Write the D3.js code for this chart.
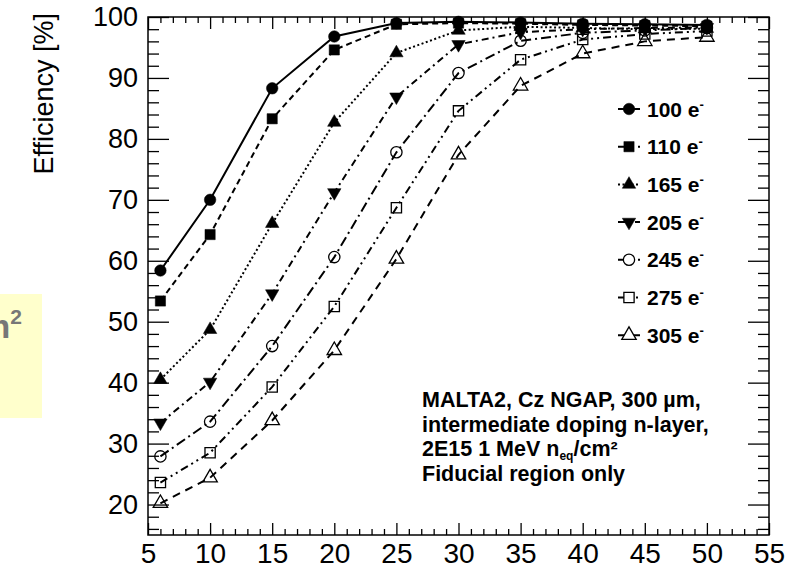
<!DOCTYPE html>
<html>
<head>
<meta charset="utf-8">
<script src="https://cdn.jsdelivr.net/npm/d3@7"></script>
<style>
  body { margin: 0; background: #fff; }
  svg { display: block; font-family: "Liberation Sans", Arial, Helvetica, sans-serif; }
</style>
</head>
<body>
<div id="chart"></div>
<script>
// threshold values (electrons) and the efficiency curves
const thresholds = ["100", "110", "165", "205", "245", "275", "305"];
const xValues = [6, 10, 15, 20, 25, 30, 35, 40, 45, 50];

const eff100 = [58.4, 70.0, 88.3, 96.8, 99.0, 99.2, 99.1, 98.9, 98.8, 98.7];
const eff110 = [53.4, 64.3, 83.3, 94.6, 98.8, 99.0, 98.9, 98.7, 98.6, 98.5];
const eff165 = [40.5, 48.7, 66.1, 82.7, 94.1, 97.8, 98.4, 98.2, 98.0, 98.1];
const eff205 = [33.4, 40.1, 54.6, 71.2, 86.9, 95.5, 97.5, 98.0, 98.2, 98.3];
const eff245 = [27.9, 33.6, 46.0, 60.6, 77.8, 90.8, 96.1, 97.4, 97.8, 98.2];
const eff275 = [23.6, 28.5, 39.3, 52.5, 68.7, 84.6, 93.0, 96.3, 97.2, 97.7];
const eff305 = [20.2, 24.4, 33.8, 45.3, 60.3, 77.4, 88.7, 94.0, 96.0, 96.7];

const xTicks = [5, 10, 15, 20, 25, 30, 35, 40, 45, 50, 55];
const yTicks = [20, 30, 40, 50, 60, 70, 80, 90, 100];

const annotation = [
  "MALTA2, Cz NGAP, 300 \u00b5m,",
  "intermediate doping n-layer,",
  "2E15 1 MeV n_eq/cm\u00b2",
  "Fiducial region only"
];

const W = 812, H = 569;
const frame = { left: 148, right: 769, top: 17, bottom: 535 };

const svg = d3.select("#chart").append("svg")
  .attr("width", W)
  .attr("height", H);

// yellow box peeking in from the left edge
svg.append("rect")
  .attr("x", 0).attr("y", 294)
  .attr("width", 42).attr("height", 124)
  .attr("fill", "#ffffcc");
const cut = svg.append("text")
  .attr("x", 22).attr("y", 338)
  .attr("text-anchor", "end")
  .attr("font-size", 34)
  .attr("font-weight", "bold")
  .attr("fill", "#777");
cut.append("tspan").text("cm");
cut.append("tspan").attr("dy", -14).attr("font-size", 21).text("2");

const x = d3.scaleLinear().domain([5, 55]).range([frame.left, frame.right]);
const y = d3.scaleLinear().domain([15, 100]).range([frame.bottom, frame.top]);

const plotW = frame.right - frame.left, plotH = frame.bottom - frame.top;

// ticks: x minor every 1, y minor every 2 (ROOT style, on all four sides)
const xMinor = d3.range(5, 56, 1).filter(v => v % 5 !== 0);
const yMinor = d3.range(16, 100, 2).filter(v => v % 10 !== 0);

function tickGroup(axis, tx, ty) {
  const g = svg.append("g").attr("transform", `translate(${tx},${ty})`).call(axis);
  g.select(".domain").remove();
  g.selectAll(".tick line").attr("stroke", "#000").attr("stroke-width", 1.3);
  return g;
}

// bottom
const gx = tickGroup(d3.axisBottom(x).tickValues(xTicks).tickSizeInner(-12).tickSizeOuter(0).tickPadding(8), 0, frame.bottom);
gx.selectAll("text").attr("font-size", 28).attr("fill", "#000");
tickGroup(d3.axisBottom(x).tickValues(xMinor).tickSize(-6).tickFormat(""), 0, frame.bottom);
// top
tickGroup(d3.axisTop(x).tickValues(xTicks).tickSize(-12).tickFormat(""), 0, frame.top);
tickGroup(d3.axisTop(x).tickValues(xMinor).tickSize(-6).tickFormat(""), 0, frame.top);
// left
const gy = tickGroup(d3.axisLeft(y).tickValues(yTicks).tickSizeInner(-21).tickSizeOuter(0).tickPadding(10), frame.left, 0);
gy.selectAll("text").attr("font-size", 27).attr("fill", "#000");
tickGroup(d3.axisLeft(y).tickValues(yMinor).tickSize(-11).tickFormat(""), frame.left, 0);
// right
tickGroup(d3.axisRight(y).tickValues(yTicks).tickSize(-21).tickFormat(""), frame.right, 0);
tickGroup(d3.axisRight(y).tickValues(yMinor).tickSize(-11).tickFormat(""), frame.right, 0);

svg.append("rect")
  .attr("x", frame.left).attr("y", frame.top)
  .attr("width", plotW).attr("height", plotH)
  .attr("fill", "none")
  .attr("stroke", "#000")
  .attr("stroke-width", 1.5);

// y axis title
svg.append("text")
  .attr("transform", `translate(53,13) rotate(-90)`)
  .attr("text-anchor", "end")
  .attr("font-size", 27)
  .text("Efficiency [%]");

// series description
const series = [
  { name: thresholds[0], values: eff100, symbol: d3.symbolCircle, size: 105, filled: true, rot: 0, dash: null },
  { name: thresholds[1], values: eff110, symbol: d3.symbolSquare, size: 105, filled: true, rot: 0, dash: "6,4" },
  { name: thresholds[2], values: eff165, symbol: d3.symbolTriangle, size: 78, filled: true, rot: 0, dash: "2,2.5" },
  { name: thresholds[3], values: eff205, symbol: d3.symbolTriangle, size: 78, filled: true, rot: 180, dash: "7,4,2,4" },
  { name: thresholds[4], values: eff245, symbol: d3.symbolCircle, size: 100, filled: false, rot: 0, dash: "10,4,2,4" },
  { name: thresholds[5], values: eff275, symbol: d3.symbolSquare, size: 105, filled: false, rot: 0, dash: "8,4,2,4,2,4" },
  { name: thresholds[6], values: eff305, symbol: d3.symbolTriangle, size: 90, filled: false, rot: 0, dash: "8,6" }
];

const line = d3.line().x((d, i) => x(xValues[i])).y(d => y(d));

const plot = svg.append("g");

plot.selectAll(".curve")
  .data(series)
  .enter()
  .append("path")
  .attr("class", "curve")
  .attr("d", d => line(d.values))
  .attr("fill", "none")
  .attr("stroke", "#000")
  .attr("stroke-width", 2)
  .attr("stroke-dasharray", d => d.dash);

series.forEach(s => {
  plot.append("g")
    .selectAll("path")
    .data(s.values)
    .enter()
    .append("path")
    .attr("d", d3.symbol().type(s.symbol).size(s.size))
    .attr("transform", (d, i) => `translate(${x(xValues[i])},${y(d)}) rotate(${s.rot})`)
    .attr("fill", s.filled ? "#000" : "none")
    .attr("stroke", "#000")
    .attr("stroke-width", s.filled ? 0.5 : 1.3);
});

// legend
const legend = svg.append("g").attr("transform", "translate(629,109)");
const rowH = 37.7;

const row = legend.selectAll(".row")
  .data(series)
  .enter()
  .append("g")
  .attr("class", "row")
  .attr("transform", (d, i) => `translate(0,${i * rowH})`);

row.append("line")
  .attr("x1", -11).attr("x2", 11)
  .attr("stroke", "#000")
  .attr("stroke-width", 2)
  .attr("stroke-dasharray", d => d.dash);

row.append("path")
  .attr("d", d => d3.symbol().type(d.symbol).size(d.size)())
  .attr("transform", d => `rotate(${d.rot})`)
  .attr("fill", d => d.filled ? "#000" : "#fff")
  .attr("stroke", "#000")
  .attr("stroke-width", d => d.filled ? 0.5 : 1.3);

const lt = row.append("text")
  .attr("x", 18)
  .attr("dy", "0.36em")
  .attr("font-size", 21)
  .attr("font-weight", "bold");
lt.append("tspan").text(d => d.name + " e");
lt.append("tspan").attr("dy", -8).attr("font-size", 13).text("-");

// annotation block
const note = svg.append("g").attr("transform", "translate(422,407)");
annotation.forEach((txt, i) => {
  const t = note.append("text")
    .attr("y", i * 24.5)
    .attr("font-size", 21.5)
    .attr("font-weight", "bold");
  if (txt.includes("n_eq")) {
    const parts = txt.split("n_eq");
    t.append("tspan").text(parts[0] + "n");
    t.append("tspan").attr("dy", 4).attr("font-size", 12).text("eq");
    t.append("tspan").attr("dy", -4).text(parts[1]);
  } else {
    t.text(txt);
  }
});
</script>
</body>
</html>
